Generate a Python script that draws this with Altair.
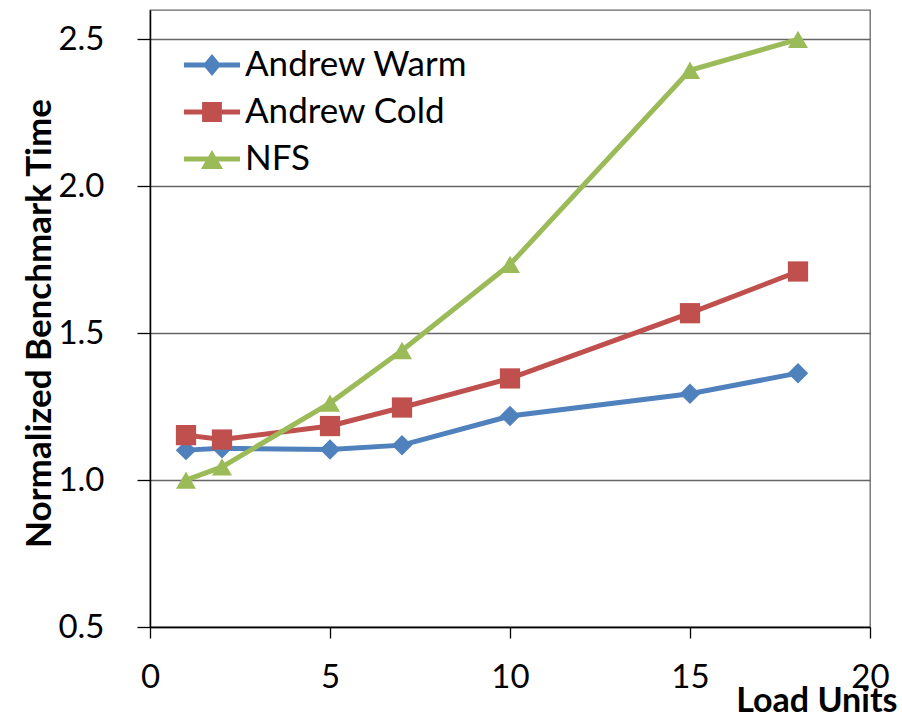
import altair as alt
import pandas as pd

# ---- data ----
load_units = [1, 2, 5, 7, 10, 15, 18]
andrew_warm = [1.102, 1.108, 1.104, 1.119, 1.218, 1.294, 1.364]
andrew_cold = [1.153, 1.138, 1.184, 1.247, 1.346, 1.568, 1.710]
nfs = [1.000, 1.045, 1.262, 1.441, 1.734, 2.395, 2.500]

series_names = ["Andrew Warm", "Andrew Cold", "NFS"]
series_colors = ["#4F81BD", "#C0504D", "#9BBB59"]
marker_shapes = ["diamond", "square", "triangle-up"]
marker_sizes = [420, 400, 529]
# legend symbols: a short line with the marker on it (custom paths)
legend_shapes = [
    "M-1.7,-0.15L1.7,-0.15L1.7,0.15L-1.7,0.15Z M0,-0.67L0.55,0L0,0.67L-0.55,0Z",
    "M-1.7,-0.15L1.7,-0.15L1.7,0.15L-1.7,0.15Z M-0.6,-0.6L0.6,-0.6L0.6,0.6L-0.6,0.6Z",
    "M-1.7,-0.15L1.7,-0.15L1.7,0.15L-1.7,0.15Z M0,-0.55L0.67,0.6L-0.67,0.6Z",
]
x_ticks = [0, 5, 10, 15, 20]
y_ticks = [0.5, 1.0, 1.5, 2.0, 2.5]

rows = []
for name, vals in zip(series_names, [andrew_warm, andrew_cold, nfs]):
    for xv, yv in zip(load_units, vals):
        rows.append({"series": name, "load": xv, "time": yv})
df = pd.DataFrame(rows)

FONT = "Lato"

x_enc = alt.X(
    "load:Q",
    scale=alt.Scale(domain=[0, 20], nice=False, zero=False),
    axis=alt.Axis(
        values=x_ticks,
        title="Load Units",
        titleFont=FONT,
        titleFontSize=34,
        titleFontWeight="bold",
        titleColor="#000000",
        titleAlign="right",
        titleBaseline="alphabetic",
        titleX=747,
        titleY=84,
        labelFont=FONT,
        labelFontSize=33,
        labelColor="#000000",
        labelBaseline="alphabetic",
        labelPadding=49,
        labelFlush=False,
        labelOverlap=False,
        tickSize=11,
        tickColor="#000000",
        tickWidth=1.3,
        domainColor="#000000",
        domainWidth=1.5,
        grid=False,
    ),
)
y_enc = alt.Y(
    "time:Q",
    scale=alt.Scale(domain=[0.5, 2.6], nice=False, zero=False),
    axis=alt.Axis(
        values=y_ticks,
        format=".1f",
        title="Normalized Benchmark Time",
        titleFont=FONT,
        titleFontSize=35,
        titleFontWeight="bold",
        titleColor="#000000",
        titleAngle=-90,
        titleAlign="center",
        titleBaseline="alphabetic",
        titleX=-100,
        titleY=313,
        labelFont=FONT,
        labelFontSize=33,
        labelColor="#000000",
        labelPadding=33,
        labelFlush=False,
        labelOverlap=False,
        tickSize=13,
        tickColor="#000000",
        tickWidth=1.3,
        domainColor="#000000",
        domainWidth=1.5,
        grid=True,
        gridColor="#666666",
        gridWidth=1.3,
    ),
)

color_scale = alt.Scale(domain=series_names, range=series_colors)

lines = alt.Chart(df).mark_line(strokeWidth=5).encode(
    x=x_enc,
    y=y_enc,
    color=alt.Color("series:N", scale=color_scale, legend=None),
)

points = alt.Chart(df).mark_point(filled=True, opacity=1).encode(
    x=x_enc,
    y=y_enc,
    color=alt.Color("series:N", scale=color_scale, legend=None),
    shape=alt.Shape("series:N", scale=alt.Scale(domain=series_names, range=marker_shapes), legend=None),
    size=alt.Size("series:O", scale=alt.Scale(domain=series_names, range=marker_sizes), legend=None),
)

legend_common = dict(
    title=None,
    orient="none",
    legendX=44.5,
    legendY=37.5,
    labelFont=FONT,
    labelFontSize=35,
    labelColor="#000000",
    labelLimit=0,
    labelOffset=15.5,
    symbolOffset=0,
    symbolSize=1089,
    symbolStrokeWidth=0,
    symbolOpacity=1,
    rowPadding=11,
    padding=0,
)

carrier = alt.Chart(df).mark_point(filled=True, opacity=0, size=1089).encode(
    x=x_enc,
    y=y_enc,
    color=alt.Color("series:N", scale=color_scale, legend=alt.Legend(**legend_common)),
    shape=alt.Shape("series:N", scale=alt.Scale(domain=series_names, range=legend_shapes),
                    legend=alt.Legend(**legend_common)),
)

chart = (
    alt.layer(lines, points, carrier)
    .resolve_scale(color="independent", shape="independent")
    .properties(
        width=720,
        height=617,
        autosize=alt.AutoSizeParams(type="none"),
        padding={"left": 150, "top": 10, "right": 32, "bottom": 90},
        background="#ffffff",
    )
    .configure_view(stroke="#666666", strokeWidth=1.3)
)

chart.save("out.html", embed_options={"renderer": "svg", "actions": False})
